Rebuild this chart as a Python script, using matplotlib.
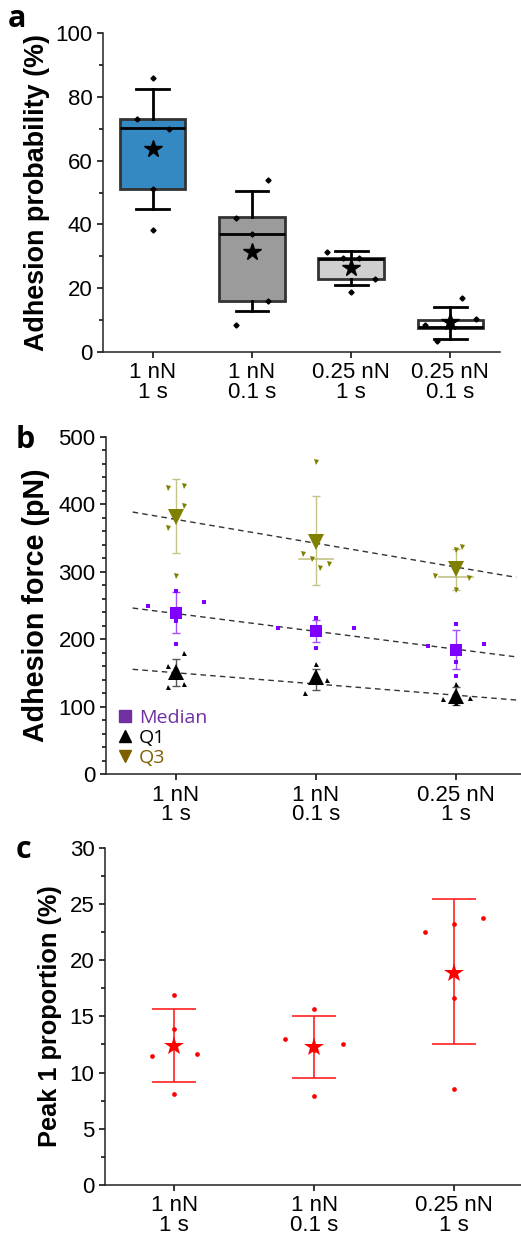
#!/usr/bin/env python
from matplotlib import pyplot as plt
from matplotlib.ticker import MultipleLocator
from matplotlib.lines import Line2D
import numpy as np

plt.rcParams['font.family'] = ['Liberation Sans', 'DejaVu Sans']

# ---- panel a: adhesion probability (%) ----
a_labels = ['1 nN\n1 s', '1 nN\n0.1 s', '0.25 nN\n1 s', '0.25 nN\n0.1 s']
a_q1 = [51.0, 16.1, 22.8, 7.4]
a_q3 = [73.2, 42.4, 29.6, 10.2]
a_med = [70.2, 36.9, 29.2, 7.9]
a_whislo = [44.8, 12.8, 20.9, 4.2]
a_whishi = [82.6, 50.5, 31.8, 14.2]
a_mean = [63.6, 31.5, 26.4, 9.3]
a_pts = [[86.0, 73.0, 70.0, 51.0, 38.3],
         [53.9, 42.0, 36.9, 16.1, 8.6],
         [31.5, 29.6, 29.4, 22.8, 18.7],
         [16.8, 10.3, 8.5, 8.0, 3.4]]
a_jit = [[0, -0.16, 0.16, 0, 0],
         [0.16, -0.16, 0, 0.16, -0.16],
         [-0.24, -0.08, 0.08, 0.24, 0],
         [0.12, 0.26, -0.26, 0, -0.13]]
a_fill = ['#3589c3', '#9b9b9b', '#d0d0d0', '#ffffff']

# ---- panel b: adhesion force (pN) ----
b_labels = ['1 nN\n1 s', '1 nN\n0.1 s', '0.25 nN\n1 s']
med_mean = [239.4, 212.0, 184.1]
med_lo = [208.8, 195.5, 155.5]
med_hi = [269.5, 228.0, 213.2]
med_pts = [[271.5, 254.7, 249.3, 227.5, 193.5],
           [231.0, 217.2, 216.2, 208.0, 187.6],
           [223.1, 193.0, 190.0, 166.3, 146.1]]
med_jit = [[0, 0.2, -0.2, 0, 0],
           [0, 0.27, -0.27, 0, 0],
           [0, 0.2, -0.2, 0, 0]]
q1_mean = [151.5, 143.6, 116.0]
q1_lo = [130.8, 125.4, 102.7]
q1_hi = [171.3, 156.5, 129.8]
q1_pts = [[179.2, 160.9, 156.8, 133.3, 129.8],
          [163.9, 150.0, 139.7, 141.5, 119.9],
          [134.3, 116.6, 111.6, 112.5, 105.0]]
q1_jit = [[0.06, -0.06, 0, 0.06, -0.06],
          [0, 0, 0.08, -0.02, -0.08],
          [0, 0, -0.09, 0.1, 0]]
q3_mean = [380.6, 344.5, 304.0]
q3_lo = [327.3, 280.5, 273.5]
q3_hi = [436.8, 412.0, 333.0]
q3_mid = [None, 319.4, 292.7]
q3_pts = [[426.5, 424.5, 397.3, 365.3, 294.2],
          [462.0, 326.8, 318.9, 311.5, 306.0],
          [337.1, 332.2, 293.7, 291.2, 273.0]]
q3_jit = [[0.06, -0.06, 0.06, -0.06, 0],
          [0, -0.09, -0.03, 0.09, 0.03],
          [0.04, 0, -0.15, 0.09, 0]]
# dashed trend lines: value at category 1 and slope per category
fit_q3 = (377.5, -35.3)
fit_med = (238.1, -26.4)
fit_q1 = (150.4, -16.6)

# ---- panel c: peak 1 proportion (%) ----
c_labels = ['1 nN\n1 s', '1 nN\n0.1 s', '0.25 nN\n1 s']
c_mean = [12.4, 12.25, 18.9]
c_lo = [9.2, 9.5, 12.5]
c_hi = [15.65, 15.05, 25.4]
c_pts = [[16.9, 13.87, 11.65, 11.5, 8.12],
         [15.68, 13.0, 12.57, 12.0, 7.95],
         [23.72, 23.24, 22.5, 16.63, 8.57]]
c_jit = [[0, 0, 0.16, -0.16, 0],
         [0, -0.21, 0.21, 0, 0],
         [0.21, 0, -0.21, 0, 0]]

TICK_FS = 16


def style_axis(ax, labels, ylim, major, minor):
	for s in ['top', 'right']:
		ax.spines[s].set_visible(False)
	for s in ['left', 'bottom']:
		ax.spines[s].set_linewidth(1.1)
		ax.spines[s].set_color('#222222')
	x = np.arange(1, len(labels) + 1)
	ax.set_xticks(x)
	ax.set_xticklabels(labels, fontsize=TICK_FS, linespacing=0.92)
	ax.set_ylim(*ylim)
	ax.yaxis.set_major_locator(MultipleLocator(major))
	ax.yaxis.set_minor_locator(MultipleLocator(minor))
	ax.tick_params(axis='both', which='major', direction='out', length=4.5, width=1.1,
				   labelsize=TICK_FS, pad=3)
	ax.tick_params(axis='y', which='minor', direction='out', length=2.8, width=1.1)
	ax.tick_params(axis='x', which='minor', bottom=False)


fig = plt.figure(figsize=(5.21, 12.34), dpi=100)

# ======== a ========
ax = fig.add_axes([0.1977, 0.7147, 0.762, 0.2585])
stats = []
for i in range(len(a_labels)):
	stats.append(dict(q1=a_q1[i], q3=a_q3[i], med=a_med[i], whislo=a_whislo[i],
					  whishi=a_whishi[i], mean=a_mean[i], fliers=[]))
pos = np.arange(1, len(a_labels) + 1)
bp = ax.bxp(stats, positions=pos, widths=0.66, capwidths=0.33, patch_artist=True,
			showmeans=True, showfliers=False,
			boxprops=dict(edgecolor='#333333', linewidth=2),
			medianprops=dict(color='black', linewidth=2),
			whiskerprops=dict(color='black', linewidth=2),
			capprops=dict(color='black', linewidth=2),
			meanprops=dict(marker='*', markerfacecolor='black', markeredgecolor='black',
						   markersize=13))
for patch, c in zip(bp['boxes'], a_fill):
	patch.set_facecolor(c)
for i, (pts, jit) in enumerate(zip(a_pts, a_jit)):
	ax.plot(pos[i] + np.array(jit), pts, 'D', color='black', markersize=2.6, zorder=4)
ax.set_xlim(0.5, 4.5)
style_axis(ax, a_labels, (0, 100), 20, 10)
ax.set_ylabel('Adhesion probability (%)', fontsize=19.4, fontweight='bold')
ax.yaxis.set_label_coords(-0.134, 0.5)
fig.text(0.014, 0.978, 'a', fontsize=22, fontweight='bold', family='Open Sans')

# ======== b ========
ax = fig.add_axes([0.2035, 0.3725, 0.7965, 0.2736])
pos = np.arange(1, len(b_labels) + 1)
xx = np.array([0.69, 3.43])
for (y1, k) in [fit_q3, fit_med, fit_q1]:
	ax.plot(xx, y1 + k * (xx - 1), ls=(0, (4, 3)), color='#333333', lw=1, zorder=2)

series = [
	(q3_mean, q3_lo, q3_hi, q3_pts, q3_jit, 'v', '#7f7f00', '#c4c488', 11, 3.6),
	(med_mean, med_lo, med_hi, med_pts, med_jit, 's', '#8000ff', '#a050ff', 9, 3.2),
	(q1_mean, q1_lo, q1_hi, q1_pts, q1_jit, '^', '#000000', '#555555', 11, 3.6),
]
for mean, lo, hi, pts, jit, mk, col, ecol, big, small in series:
	mean = np.array(mean)
	err = [mean - np.array(lo), np.array(hi) - mean]
	ax.errorbar(pos, mean, yerr=err, fmt='none', ecolor=ecol, elinewidth=1,
				capsize=3, capthick=1, zorder=3)
	for i in range(len(pos)):
		ax.plot(pos[i] + np.array(jit[i]), pts[i], mk, color=col, markersize=small,
				markeredgewidth=0, zorder=4)
	ax.plot(pos, mean, mk, color=col, markersize=big, markeredgewidth=0, zorder=5)
for i, m in enumerate(q3_mid):
	if m is not None:
		ax.plot([pos[i] - 0.12, pos[i] + 0.12], [m, m], color='#c4c488', lw=1.2, zorder=3)

ax.set_xlim(0.5, 3.464)
style_axis(ax, b_labels, (0, 500), 100, 20)
ax.set_ylabel('Adhesion force (pN)', fontsize=20.6, fontweight='bold')
ax.yaxis.set_label_coords(-0.135, 0.5)
handles = [
	Line2D([], [], ls='none', marker='s', color='#7030a0', markersize=8),
	Line2D([], [], ls='none', marker='^', color='black', markersize=8),
	Line2D([], [], ls='none', marker='v', color='#7f6000', markersize=8),
]
leg = ax.legend(handles, ['Median', 'Q1', 'Q3'], loc='lower left', frameon=False,
				bbox_to_anchor=(-0.01, -0.03), handlelength=0.6, handletextpad=0.4,
				labelspacing=0.1, prop=dict(family='Open Sans', size=14))
for t, c in zip(leg.get_texts(), ['#7030a0', 'black', '#7f6000']):
	t.set_color(c)
fig.text(0.03, 0.637, 'b', fontsize=22, fontweight='bold', family='Open Sans')

# ======== c ========
ax = fig.add_axes([0.2015, 0.0397, 0.7985, 0.2733])
pos = np.arange(1, len(c_labels) + 1)
mean = np.array(c_mean)
err = [mean - np.array(c_lo), np.array(c_hi) - mean]
ax.errorbar(pos, mean, yerr=err, fmt='none', ecolor='#ff2020', elinewidth=1.2,
			capsize=16, capthick=1.2, zorder=3)
for i in range(len(pos)):
	ax.plot(pos[i] + np.array(c_jit[i]), c_pts[i], 'o', color='#ff0000', markersize=3.4,
			markeredgewidth=0, zorder=4)
ax.plot(pos, mean, '*', color='#ff0000', markersize=15, markeredgewidth=0, zorder=5)
ax.set_xlim(0.504, 3.48)
style_axis(ax, c_labels, (0, 30), 5, 2.5)
ax.set_ylabel('Peak 1 proportion (%)', fontsize=18.3, fontweight='bold')
ax.yaxis.set_label_coords(-0.103, 0.5)
fig.text(0.03, 0.305, 'c', fontsize=22, fontweight='bold', family='Open Sans')

fig.savefig('out.png', dpi=100)
